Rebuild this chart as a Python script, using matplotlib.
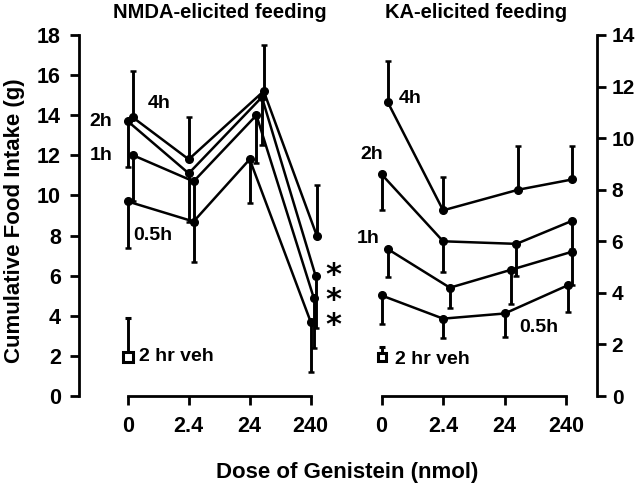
import matplotlib
matplotlib.use("Agg")
import matplotlib.pyplot as plt

plt.rcParams['font.family'] = ['Liberation Sans', 'DejaVu Sans']
plt.rcParams['font.weight'] = 'bold'

doses = ['0', '2.4', '24', '240']

# NMDA-elicited feeding (left axis, g)
nmda_4h = [13.9, 11.8, 15.2, 8.0]
nmda_4h_err = [2.3, 2.1, 2.3, 2.5]
nmda_2h = [13.7, 11.1, 14.9, 6.0]
nmda_2h_err = [2.3, 2.4, 2.4, 2.6]
nmda_1h = [12.0, 10.7, 14.0, 4.9]
nmda_1h_err = [2.3, 2.1, 2.4, 2.5]
nmda_05h = [9.7, 8.7, 11.8, 3.7]
nmda_05h_err = [2.3, 2.0, 2.2, 2.5]
nmda_veh = 1.95
nmda_veh_err = 1.95

# KA-elicited feeding (right axis, g)
ka_4h = [11.4, 7.2, 8.0, 8.4]
ka_4h_err = [1.6, 1.3, 1.7, 1.3]
ka_2h = [8.6, 6.0, 5.9, 6.8]
ka_2h_err = [1.4, 1.2, 1.25, 1.1]
ka_1h = [5.7, 4.2, 4.9, 5.6]
ka_1h_err = [1.1, 0.8, 1.35, 1.3]
ka_05h = [3.9, 3.0, 3.2, 4.3]
ka_05h_err = [1.1, 0.75, 0.9, 1.05]
ka_veh = 1.5
ka_veh_err = 0.4

# small horizontal jitter so the points don't sit on top of each other
nmda_jit = {'4h': [0.08, 0.0, 0.23, 0.1], '2h': [0.0, 0.0, 0.2, 0.08],
            '1h': [0.09, 0.08, 0.11, 0.05], '0.5h': [0.0, 0.08, 0.0, 0.0]}
ka_jit = {'4h': [0.1, 0.0, 0.22, 0.1], '2h': [0.0, 0.0, 0.19, 0.1],
          '1h': [0.1, 0.11, 0.11, 0.1], '0.5h': [0.0, 0.0, 0.0, 0.03]}

fig = plt.figure(figsize=(6.4, 4.84), dpi=100)
ax1 = fig.add_axes([0.1234, 0.1818, 0.3906, 0.7459])
ax2 = fig.add_axes([0.548, 0.1818, 0.385, 0.7459])

lw = 1.8


def draw(ax, vals, errs, jit, up):
    xs = [i + j for i, j in enumerate(jit)]
    ax.plot(xs, vals, color='black', lw=lw, marker='o', ms=5.5, zorder=3)
    if up:
        yerr = [[0] * len(errs), errs]
    else:
        yerr = [errs, [0] * len(errs)]
    ax.errorbar(xs, vals, yerr=yerr, fmt='none', ecolor='black',
                elinewidth=lw + 0.3, capsize=2.5, capthick=lw, zorder=2)


draw(ax1, nmda_4h, nmda_4h_err, nmda_jit['4h'], True)
draw(ax1, nmda_2h, nmda_2h_err, nmda_jit['2h'], False)
draw(ax1, nmda_1h, nmda_1h_err, nmda_jit['1h'], False)
draw(ax1, nmda_05h, nmda_05h_err, nmda_jit['0.5h'], False)
ax1.errorbar([0], [nmda_veh], yerr=[[0], [nmda_veh_err]], fmt='s', ms=6.5,
             mfc='white', mec='black', mew=2.2, ecolor='black',
             elinewidth=lw + 0.3, capsize=2.5, capthick=lw)

draw(ax2, ka_4h, ka_4h_err, ka_jit['4h'], True)
draw(ax2, ka_2h, ka_2h_err, ka_jit['2h'], False)
draw(ax2, ka_1h, ka_1h_err, ka_jit['1h'], False)
draw(ax2, ka_05h, ka_05h_err, ka_jit['0.5h'], False)
ax2.errorbar([0], [ka_veh], yerr=[[0], [ka_veh_err]], fmt='s', ms=5.5,
             mfc='white', mec='black', mew=2.2, ecolor='black',
             elinewidth=lw + 0.3, capsize=2.5, capthick=lw)

for ax in (ax1, ax2):
    ax.set_xticks(range(len(doses)))
    ax.set_xticklabels(doses)
    ax.spines['top'].set_visible(False)
    ax.spines['bottom'].set_bounds(0, 3)
    for s in ax.spines.values():
        s.set_linewidth(2.0)
    ax.tick_params(axis='both', length=6.5, width=2.0, labelsize=15.5, pad=6.5)
    ax.tick_params(axis='x', pad=8)

ax1.set_xlim(-0.8, 3.3)
ax1.set_ylim(0, 18)
ax1.set_yticks(range(0, 19, 2))
ax1.spines['right'].set_visible(False)

ax2.set_xlim(-0.5, 3.5)
ax2.set_ylim(0, 14)
ax2.set_yticks(range(0, 15, 2))
ax2.spines['left'].set_visible(False)
ax2.yaxis.tick_right()
ax2.tick_params(axis='y', pad=4, labelsize=15)

# series labels
lab = dict(fontsize=14, fontweight='bold', va='center')
ax1.text(-0.44, 13.7, '2h', ha='center', **lab)
ax1.text(0.52, 14.6, '4h', ha='center', **lab)
ax1.text(-0.44, 12.0, '1h', ha='center', **lab)
ax1.text(0.41, 8.0, '0.5h', ha='center', **lab)
ax1.text(0.18, 1.95, '2 hr veh', ha='left', **lab)
# significance marks for the three lower curves at 240 nmol
ax1.text(3.38, 4.75, '*\n*\n*', ha='center', va='center', fontsize=22,
         linespacing=0.82, fontweight='bold', family='DejaVu Sans')

ax2.text(0.46, 11.55, '4h', ha='center', **lab)
ax2.text(-0.16, 9.35, '2h', ha='center', **lab)
ax2.text(-0.21, 6.1, '1h', ha='center', **lab)
ax2.text(2.55, 2.66, '0.5h', ha='center', **lab)
ax2.text(0.22, 1.42, '2 hr veh', ha='left', **lab)

fig.text(0.344, 0.975, 'NMDA-elicited feeding', ha='center', va='center',
         fontsize=14.5, fontweight='bold')
fig.text(0.744, 0.975, 'KA-elicited feeding', ha='center', va='center',
         fontsize=14.5, fontweight='bold')
fig.text(0.022, 0.545, 'Cumulative Food Intake (g)', rotation=90,
         ha='center', va='center', fontsize=16, fontweight='bold')
fig.text(0.543, 0.023, 'Dose of Genistein (nmol)', ha='center', va='center',
         fontsize=16, fontweight='bold')

fig.savefig('out.png', dpi=100)
